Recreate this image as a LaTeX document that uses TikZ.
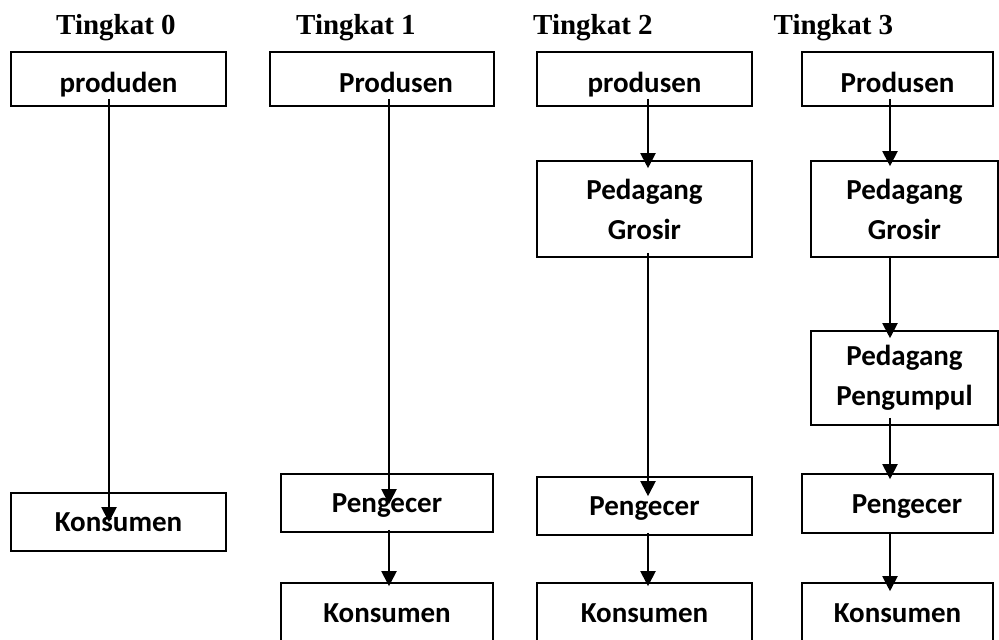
\documentclass[tikz,border=0pt]{standalone}
\usepackage{fontspec}
\setmainfont{Liberation Serif}
\newfontfamily\boxfont{Carlito}
\usetikzlibrary{arrows.meta}

\begin{document}
\begin{tikzpicture}[x=1pt, y=-1pt,
        level/.style={anchor=base, font=\fontsize{29}{34}\selectfont\bfseries},
        box/.style={draw, line width=1.6pt, inner sep=0pt, align=center, font=\boxfont\fontsize{29}{40}\selectfont\bfseries},
        oneline/.style={text height=26pt, text depth=7pt},
        topline/.style={text height=34pt, text depth=7pt},
        flow/.style={-{Triangle[width=15pt,length=15pt]}, line width=2pt}]
        \useasboundingbox (0,0) rectangle (999,640);

        \node (T0) at (116,34)   [level] {Tingkat 0};
        \node (T1) at (356,34)   [level] {Tingkat 1};
        \node (T2) at (593,34)   [level] {Tingkat 2};
        \node (T3) at (833.5,34) [level] {Tingkat 3};

        % Tingkat 0
        \node (P0) at (118.5,79)  [box, topline, minimum width=215pt, minimum height=54pt] {produden};
        \node (K0) at (118.5,522) [box, oneline, minimum width=215pt, minimum height=58pt] {Konsumen};
        % Tingkat 1
        \node (P1) at (382,79)  [box, topline, minimum width=224pt, minimum height=54pt] {\hspace*{28pt}Produsen};
        \node (E1) at (387,503) [box, oneline, minimum width=212pt, minimum height=58pt] {Pengecer};
        \node (K1) at (387,613) [box, oneline, minimum width=212pt, minimum height=60pt] {Konsumen};
        % Tingkat 2
        \node (P2) at (644.5,79)  [box, topline, minimum width=215pt, minimum height=54pt] {produsen};
        \node (G2) at (644.5,209) [box, minimum width=215pt, minimum height=96pt] {Pedagang\\Grosir};
        \node (E2) at (644.5,506) [box, oneline, minimum width=215pt, minimum height=58pt] {Pengecer};
        \node (K2) at (644.5,613) [box, oneline, minimum width=215pt, minimum height=60pt] {Konsumen};
        % Tingkat 3
        \node (P3) at (897.5,79)    [box, topline, minimum width=191pt, minimum height=54pt] {Produsen};
        \node (G3) at (904.5,209)   [box, minimum width=187pt, minimum height=96pt] {Pedagang\\Grosir};
        \node (U3) at (904.5,378)   [box, minimum width=187pt, minimum height=94pt] {Pedagang\\Pengumpul};
        \node (E3) at (897.5,503.5) [box, oneline, minimum width=191pt, minimum height=59pt] {\hspace*{19pt}Pengecer};
        \node (K3) at (897.5,613)   [box, oneline, minimum width=191pt, minimum height=60pt] {Konsumen};

        % P0 -> K0
        \draw[flow, shorten <=-8pt, shorten >=-30pt] ([xshift=-9.5pt]P0.south) -- ([xshift=-9.5pt]K0.north);
        % P1 -> E1
        \draw[flow, shorten <=-8pt, shorten >=-31pt] ([xshift=7pt]P1.south) -- ([xshift=2pt]E1.north);
        % E1 -> K1
        \draw[flow, shorten <=-3pt, shorten >=-4pt] ([xshift=2pt]E1.south) -- ([xshift=2pt]K1.north);
        % P2 -> G2
        \draw[flow, shorten <=-8pt, shorten >=-8pt] ([xshift=3.5pt]P2.south) -- ([xshift=3.5pt]G2.north);
        % G2 -> E2
        \draw[flow, shorten <=-5pt, shorten >=-20pt] ([xshift=3.5pt]G2.south) -- ([xshift=3.5pt]E2.north);
        % E2 -> K2
        \draw[flow, shorten <=-3pt, shorten >=-4pt] ([xshift=3.5pt]E2.south) -- ([xshift=3.5pt]K2.north);
        % P3 -> G3
        \draw[flow, shorten <=-8pt, shorten >=-6pt] ([xshift=-7.5pt]P3.south) -- ([xshift=-14.5pt]G3.north);
        % G3 -> U3
        \draw[flow, shorten <=-2pt, shorten >=-8pt] ([xshift=-14.5pt]G3.south) -- ([xshift=-14.5pt]U3.north);
        % U3 -> E3
        \draw[flow, shorten <=-8pt, shorten >=-6pt] ([xshift=-14.5pt]U3.south) -- ([xshift=-7.5pt]E3.north);
        % E3 -> K3
        \draw[flow, shorten >=-9pt] ([xshift=-7.5pt]E3.south) -- ([xshift=-7.5pt]K3.north);
    \end{tikzpicture}
\end{document}
